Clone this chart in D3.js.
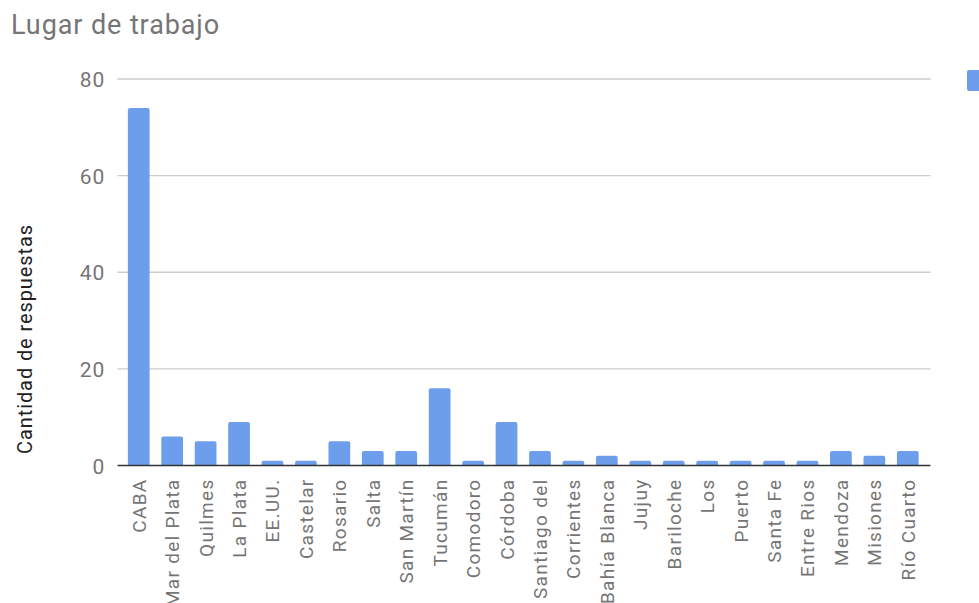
<!DOCTYPE html>
<html>
<head>
<meta charset="utf-8">
<script src="https://cdn.jsdelivr.net/npm/d3@7"></script>
<style>
  html, body { margin: 0; padding: 0; background: #fff; overflow: hidden; }
  svg { display: block; font-family: Roboto, "Noto Sans", sans-serif; }
</style>
</head>
<body>
<svg id="chart" width="979" height="603"></svg>
<script>
const categories = ["CABA", "Mar del Plata", "Quilmes", "La Plata", "EE.UU.", "Castelar", "Rosario", "Salta", "San Martín", "Tucumán", "Comodoro", "Córdoba", "Santiago del", "Corrientes", "Bahía Blanca", "Jujuy", "Bariloche", "Los", "Puerto", "Santa Fe", "Entre Rios", "Mendoza", "Misiones", "Río Cuarto"];
const values = [74, 6, 5, 9, 1, 1, 5, 3, 3, 16, 1, 9, 3, 1, 2, 1, 1, 1, 1, 1, 1, 3, 2, 3];
const yTicks = [0, 20, 40, 60, 80];
const title = "Lugar de trabajo";
const yTitle = "Cantidad de respuestas";

const svg = d3.select("#chart");
const plotLeft = 117.5, plotRight = 930.5;
const y = d3.scaleLinear().domain([0, 80]).range([465.5, 79]);
const x = d3.scaleBand().domain(categories).range([122, 924.5]).paddingInner(0.35).paddingOuter(0.175);

// title
svg.append("text").attr("x", 11).attr("y", 33.5)
  .attr("font-size", 27).attr("letter-spacing", 0.9).attr("fill", "#757575").text(title);

// gridlines
svg.append("g").selectAll("line").data(yTicks.filter(d => d !== 0)).join("line")
  .attr("x1", plotLeft).attr("x2", plotRight)
  .attr("y1", d => y(d)).attr("y2", d => y(d))
  .attr("stroke", "#cccccc").attr("stroke-width", 1.3);

// y tick labels
const yAxis = d3.axisLeft(y).tickValues(yTicks).tickSize(0).tickPadding(0);
const yg = svg.append("g").attr("transform", `translate(105,0)`).call(yAxis);
yg.select(".domain").remove();
yg.selectAll("text").attr("font-size", 21).attr("letter-spacing", 0.8).attr("fill", "#757575")
  .attr("font-family", "Roboto, sans-serif").attr("dy", "0.36em");

// bars with rounded tops
const r = 2;
svg.append("g").selectAll("path").data(values).join("path")
  .attr("fill", "#6d9eeb")
  .attr("d", (d, i) => {
    const x0 = x(categories[i]), w = x.bandwidth();
    const yt = y(d), yb = y(0);
    return `M${x0},${yb} L${x0},${yt + r} Q${x0},${yt} ${x0 + r},${yt} L${x0 + w - r},${yt} Q${x0 + w},${yt} ${x0 + w},${yt + r} L${x0 + w},${yb} Z`;
  });

// baseline
svg.append("line").attr("x1", plotLeft).attr("x2", plotRight)
  .attr("y1", y(0)).attr("y2", y(0)).attr("stroke", "#333333").attr("stroke-width", 1.5);

// x labels
const xAxis = d3.axisBottom(x).tickSize(0).tickPadding(0);
const xg = svg.append("g").attr("transform", `translate(0,${y(0)})`).call(xAxis);
xg.select(".domain").remove();
xg.selectAll("text")
  .attr("font-size", 19).attr("letter-spacing", 1.3).attr("fill", "#757575").attr("font-family", "Roboto, sans-serif")
  .attr("text-anchor", "end")
  .attr("transform", "translate(7,13) rotate(-90)")
  .attr("dy", 0).attr("y", 0).attr("x", 0);

// y axis title
svg.append("text").attr("transform", "translate(32,339) rotate(-90)")
  .attr("text-anchor", "middle").attr("font-size", 20).attr("letter-spacing", 0.9).attr("fill", "#222222").text(yTitle);

// legend swatch (cut off at right edge)
svg.append("rect").attr("x", 967).attr("y", 70).attr("width", 21).attr("height", 21)
  .attr("rx", 2).attr("fill", "#6d9eeb");
</script>
</body>
</html>
